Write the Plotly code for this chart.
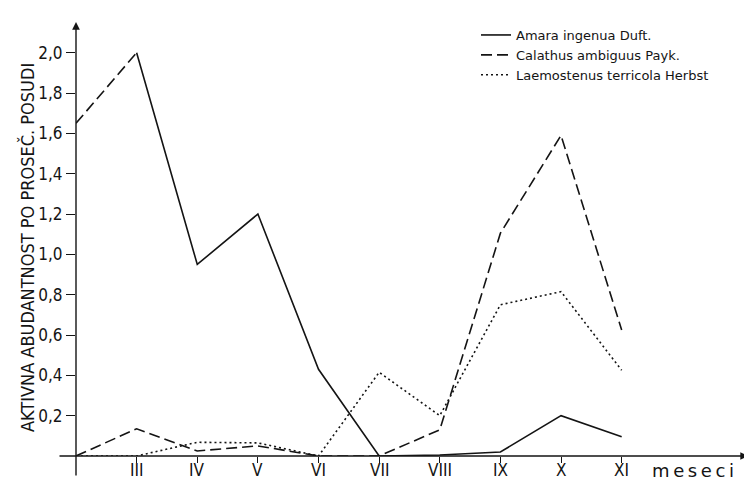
import plotly.graph_objects as go

months = [2, 3, 4, 5, 6, 7, 8, 9, 10, 11]
month_labels = ["III", "IV", "V", "VI", "VII", "VIII", "IX", "X", "XI"]
month_ticks = [3, 4, 5, 6, 7, 8, 9, 10, 11]

amara = [1.65, 2.0, 0.95, 1.2, 0.43, 0.0, 0.005, 0.02, 0.20, 0.095]
calathus = [0.0, 0.135, 0.025, 0.05, 0.0, 0.0, 0.13, 1.105, 1.59, 0.625]
laemostenus = [0.0, 0.0, 0.068, 0.065, 0.0, 0.415, 0.20, 0.75, 0.815, 0.425]

y_ticks = [0.2, 0.4, 0.6, 0.8, 1.0, 1.2, 1.4, 1.6, 1.8, 2.0]
y_labels = ["0,2", "0,4", "0,6", "0,8", "1,0", "1,2", "1,4", "1,6", "1,8", "2,0"]

names = ["Amara ingenua Duft.", "Calathus ambiguus Payk.", "Laemostenus terricola Herbst"]

INK = "#141414"
COND = "DejaVu Sans Condensed, DejaVu Sans, sans-serif"
LW = 1.6

fig = go.Figure()
# first segment of Amara drawn dashed in the original
fig.add_trace(go.Scatter(x=months[:2], y=amara[:2], mode="lines", showlegend=False,
                         line=dict(color=INK, width=LW, dash="11px,5px"), cliponaxis=False))
fig.add_trace(go.Scatter(x=months[1:], y=amara[1:], mode="lines", name=names[0],
                         line=dict(color=INK, width=LW), cliponaxis=False))
fig.add_trace(go.Scatter(x=months, y=calathus, mode="lines", name=names[1],
                         line=dict(color=INK, width=LW, dash="11px,5px"), cliponaxis=False))
fig.add_trace(go.Scatter(x=months, y=laemostenus, mode="lines", name=names[2],
                         line=dict(color=INK, width=LW, dash="2px,3px"), cliponaxis=False))

# page body has an 8px margin, so the figure is drawn 8px smaller and offset
OFF = 8
W, H = 752 - OFF, 487 - OFF
ml, mr, mt, mb = 76 - OFF, 4, 22 - OFF, 31
pw, ph = W - ml - mr, H - mt - mb
px_per_month = 60.63
px_per_unit = 201.65


def fx(sx):
    return (sx - OFF - ml) / pw


def fy(sy):
    return 1 - (sy - OFF - mt) / ph


fig.update_layout(
    width=W, height=H,
    margin=dict(l=ml, r=mr, t=mt, b=mb, pad=0),
    paper_bgcolor="white", plot_bgcolor="white",
    font=dict(family=COND, color=INK),
    xaxis=dict(range=[2, 2 + pw / px_per_month], showgrid=False, zeroline=False,
               showline=False, tickmode="array", tickvals=month_ticks, ticktext=month_labels,
               ticks="outside", ticklen=6, tickwidth=1.2, tickcolor=INK,
               showticklabels=False),
    yaxis=dict(range=[0, ph / px_per_unit], showgrid=False, zeroline=False,
               showline=False, tickmode="array", tickvals=y_ticks, ticktext=y_labels,
               ticks="outside", ticklen=9, tickwidth=1.2, tickcolor=INK,
               tickfont=dict(family=COND, size=17, color=INK)),
    legend=dict(x=fx(476), y=fy(20), xanchor="left", yanchor="top",
                bgcolor="rgba(0,0,0,0)", font=dict(family="DejaVu Sans, sans-serif", size=13, color=INK),
                itemwidth=30, tracegroupgap=0),
    showlegend=True,
)

annotations = [
    # y axis with arrow
    dict(xref="paper", yref="paper", x=0, y=1, ax=0, ay=455, text="", showarrow=True,
         arrowhead=2, arrowsize=1.1, arrowwidth=1.4, arrowcolor=INK),
    # x axis with arrow
    dict(xref="paper", yref="paper", x=1, y=0, ax=-(pw + 18), ay=0, text="", showarrow=True,
         arrowhead=2, arrowsize=1.1, arrowwidth=1.4, arrowcolor=INK),
    dict(xref="paper", yref="paper", x=fx(693), y=fy(470),
         text="m\u2009e\u2009s\u2009e\u2009c\u2009i", showarrow=False,
         font=dict(family="DejaVu Sans, sans-serif", size=18, color=INK),
         xanchor="center", yanchor="middle"),
    dict(xref="paper", yref="paper", x=fx(28), y=fy(248),
         text="AKTIVNA ABUDANTNOST PO PROSEČ. POSUDI", showarrow=False, textangle=-90,
         font=dict(family=COND, size=18, color=INK), xanchor="center", yanchor="middle"),
]
for tv, tt in zip(month_ticks, month_labels):
    annotations.append(dict(xref="x", yref="paper", x=tv, y=fy(470), text=tt,
                            showarrow=False, font=dict(family=COND, size=17, color=INK),
                            xanchor="center", yanchor="middle"))
fig.update_layout(annotations=annotations)

fig.write_html("out.html")
